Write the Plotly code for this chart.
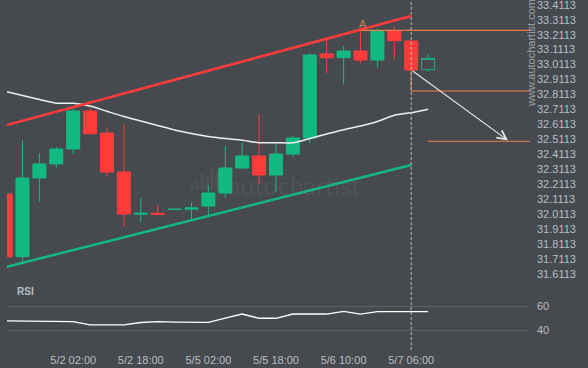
import plotly.graph_objects as go

# ---------------- data ----------------
candle_idx = list(range(26))
opens = [32.1476, 31.729, 32.2544, 32.348, 32.448, 32.7017, 32.5548, 32.2945, 32.013, 32.019,
         32.045, 32.046, 32.0675, 32.1543, 32.3212, 32.4013, 32.2745, 32.4146, 32.5215, 33.0822,
         33.0575, 33.1022, 33.0421, 33.2357, 33.1690, 32.9774]
highs = [32.1476, 32.508, 32.4213, 32.4614, 32.7197, 32.7197, 32.5916, 32.6129, 32.121, 32.0722,
         32.046, 32.0909, 32.2077, 32.468, 32.4901, 32.6797, 32.4927, 32.5368, 33.0889, 33.1757,
         33.1356, 33.2424, 33.2511, 33.2671, 33.1690, 33.0822]
lows = [31.724, 31.689, 32.096, 32.3232, 32.4146, 32.5435, 32.2631, 31.9293, 31.956, 32.0094,
        32.045, 31.9787, 31.9907, 32.1256, 32.3125, 32.2124, 32.1630, 32.3966, 32.4861, 32.9534,
        32.8799, 33.0201, 32.9907, 33.0468, 32.9754, 32.9640]
closes = [31.729, 32.2544, 32.348, 32.448, 32.7017, 32.5502, 32.2945, 32.0141, 32.019, 32.012,
          32.046, 32.055, 32.1543, 32.3212, 32.4013, 32.2745, 32.4146, 32.5215, 33.0755, 33.0575,
          33.1022, 33.0421, 33.2357, 33.1710, 32.9754, 33.0535]
moving_avg = [32.8332, 32.8052, 32.7785, 32.7538, 32.7531, 32.7351, 32.6997, 32.6650, 32.6349, 32.6049,
              32.5749, 32.5515, 32.5315, 32.5181, 32.5068, 32.4901, 32.4901, 32.4901, 32.5181, 32.5481,
              32.5769, 32.6016, 32.6316, 32.6736, 32.6903, 32.7130]
rsi_values = [47.7, 47.7, 47.6, 47.4, 47.1, 44.4, 44.4, 44.4, 46.4, 47.1,
              46.8, 46.6, 46.6, 50.1, 53.4, 49.9, 49.9, 53.4, 53.2, 53.4,
              55.6, 53.4, 55.3, 55.3, 55.3, 55.3]

x_tick_idx = [4, 8, 12, 16, 20, 24]
x_tick_text = ["5/2 02:00", "5/2 18:00", "5/5 02:00", "5/5 18:00", "5/6 10:00", "5/7 06:00"]
price_ticks = [31.6113, 31.7113, 31.8113, 31.9113, 32.0113, 32.1113, 32.2113, 32.3113, 32.4113,
               32.5113, 32.6113, 32.7113, 32.8113, 32.9113, 33.0113, 33.1113, 33.2113, 33.3113, 33.4113]
price_tick_text = ["%.4f" % v for v in price_ticks]
rsi_ticks = [40, 60]

# channel (pattern) lines
resist_x = [0, 24]
resist_y = [32.6057, 33.3359]
support_x = [0, 24]
support_y = [31.6599, 32.3412]

# pattern levels / forecast
x_end = 31.03
level_a_x = 21
level_a = 33.2404
level_break_x = 24
level_break = 32.8352
level_target_x = 25
level_target = 32.4994
arrow_from = (24, 32.9754)
arrow_to = (29.73, 32.5048)
now_idx = 24

# ---------------- style ----------------
BG = "#464a4f"
GREEN = "#12b981"
RED = "#fe3b3b"
ORANGE = "#f07d45"
TXT = "#b9bdc1"
FONT = "Liberation Sans"

W, H = 588, 368
xl, xr = 7 / W, 530 / W
main_dom = [1 - 280 / H, 1]
rsi_dom = [(H - 350) / H, (H - 285) / H]

fig = go.Figure()

n_full = len(candle_idx) - 1
fig.add_trace(go.Candlestick(
    x=candle_idx[:n_full], open=opens[:n_full], high=highs[:n_full],
    low=lows[:n_full], close=closes[:n_full],
    increasing=dict(line=dict(color=GREEN, width=1), fillcolor=GREEN),
    decreasing=dict(line=dict(color=RED, width=1), fillcolor=RED),
    xaxis="x", yaxis="y", showlegend=False, hoverinfo="skip"))
fig.add_trace(go.Candlestick(
    x=candle_idx[n_full:], open=opens[n_full:], high=highs[n_full:],
    low=lows[n_full:], close=closes[n_full:],
    increasing=dict(line=dict(color=GREEN, width=1), fillcolor=BG),
    decreasing=dict(line=dict(color=RED, width=1), fillcolor=BG),
    xaxis="x", yaxis="y", showlegend=False, hoverinfo="skip"))

fig.add_trace(go.Scatter(x=candle_idx, y=moving_avg, mode="lines",
                         line=dict(color="#eeeeee", width=1.5, shape="spline", smoothing=0.8),
                         xaxis="x", yaxis="y", showlegend=False, hoverinfo="skip"))

fig.add_trace(go.Scatter(x=resist_x, y=resist_y, mode="lines",
                         line=dict(color=RED, width=2.5), xaxis="x", yaxis="y",
                         showlegend=False, hoverinfo="skip"))
fig.add_trace(go.Scatter(x=support_x, y=support_y, mode="lines",
                         line=dict(color=GREEN, width=2.5), xaxis="x", yaxis="y",
                         showlegend=False, hoverinfo="skip"))

# pattern level lines
fig.add_trace(go.Scatter(x=[level_a_x, x_end], y=[level_a, level_a], mode="lines",
                         line=dict(color=ORANGE, width=1.3), xaxis="x", yaxis="y",
                         showlegend=False, hoverinfo="skip"))
fig.add_trace(go.Scatter(x=[level_break_x, level_break_x, x_end],
                         y=[closes[level_break_x], level_break, level_break], mode="lines",
                         line=dict(color=ORANGE, width=1), xaxis="x", yaxis="y",
                         showlegend=False, hoverinfo="skip"))
fig.add_trace(go.Scatter(x=[level_target_x, x_end], y=[level_target, level_target], mode="lines",
                         line=dict(color=ORANGE, width=1), xaxis="x", yaxis="y",
                         showlegend=False, hoverinfo="skip"))

# RSI
fig.add_trace(go.Scatter(x=candle_idx, y=rsi_values, mode="lines",
                         line=dict(color="#ffffff", width=1.3),
                         xaxis="x2", yaxis="y2", showlegend=False, hoverinfo="skip"))

x_range = [0.083, x_end]

fig.update_layout(
    width=W, height=H,
    margin=dict(l=0, r=0, t=0, b=0, autoexpand=False),
    paper_bgcolor=BG, plot_bgcolor=BG,
    font=dict(family=FONT, color=TXT, size=11),
    boxgap=0.23, boxgroupgap=0, boxmode="overlay",
    xaxis=dict(domain=[xl, xr], range=x_range, anchor="y", showticklabels=False,
               showgrid=False, zeroline=False, showline=False, ticks="", automargin=False,
               rangeslider=dict(visible=False)),
    yaxis=dict(domain=main_dom, range=[31.5735, 33.4427], side="right", anchor="x",
               tickvals=price_ticks, ticktext=price_tick_text, showgrid=False,
               zeroline=False, showline=False, ticks="", ticklabelstandoff=6, automargin=False,
               ticklabeloverflow="allow", tickfont=dict(size=11, color=TXT)),
    xaxis2=dict(domain=[xl, xr], range=x_range, anchor="y2", matches="x",
                tickvals=x_tick_idx, ticktext=x_tick_text, showgrid=False,
                zeroline=False, showline=False, ticks="", ticklabelstandoff=2, automargin=False,
                ticklabeloverflow="allow", tickfont=dict(size=11, color=TXT)),
    yaxis2=dict(domain=rsi_dom, range=[23.79, 77.28], side="right", anchor="x2",
                tickvals=rsi_ticks, showgrid=True, gridcolor="#5b5f63", gridwidth=1,
                zeroline=False, showline=False, ticks="", ticklabelstandoff=6, automargin=False,
                ticklabeloverflow="allow", tickfont=dict(size=11, color=TXT)),
)

# vertical "now" dashed line
fig.add_shape(type="line", xref="x", yref="paper", x0=now_idx, x1=now_idx,
              y0=(H - 350) / H, y1=1, line=dict(color="#b8b8b8", width=1, dash="3px,2px"),
              layer="above")

# forecast arrow
fig.add_annotation(x=arrow_to[0], y=arrow_to[1], ax=arrow_from[0], ay=arrow_from[1],
                   xref="x", yref="y", axref="x", ayref="y", text="", showarrow=True,
                   arrowhead=5, arrowsize=1.5, arrowwidth=1.2, arrowcolor="#e6e6e6",
                   standoff=0, startstandoff=0)

# "A" label
fig.add_annotation(x=level_a_x, y=level_a, xref="x", yref="y", text="A", showarrow=False,
                   xshift=3, yshift=-2, yanchor="bottom",
                   font=dict(size=11, color="#c98358", family=FONT))

# RSI label
fig.add_annotation(x=15 / W, y=(H - 291) / H, xref="paper", yref="paper", text="<b>RSI</b>",
                   showarrow=False, xanchor="left", yanchor="middle",
                   font=dict(size=10, color=TXT, family=FONT))

# watermark text
fig.add_annotation(x=226 / W, y=(H - 185) / H, xref="paper", yref="paper", text="autochartist",
                   showarrow=False, xanchor="left", yanchor="middle",
                   font=dict(size=25, color="rgba(255,255,255,0.06)", family="Lato"))
for bx, btop in [(192, 185), (197, 181), (202, 174), (207, 176), (212, 168), (217, 172)]:
    fig.add_shape(type="rect", xref="paper", yref="paper",
                  x0=(bx - 1.5) / W, x1=(bx + 1.5) / W, y0=(H - 190) / H, y1=(H - btop) / H,
                  line=dict(width=0), fillcolor="rgba(255,255,255,0.05)", layer="below")

# site text, rotated
fig.add_annotation(x=531 / W, y=(H - 53) / H, xref="paper", yref="paper",
                   text="www.autochartist.com", showarrow=False, textangle=-90,
                   xanchor="center", yanchor="middle",
                   font=dict(size=11, color="#9da1a5", family=FONT))

fig.write_html("out.html", config={"displayModeBar": False},
               post_script="document.body.style.margin='0';document.body.style.overflow='hidden';")
